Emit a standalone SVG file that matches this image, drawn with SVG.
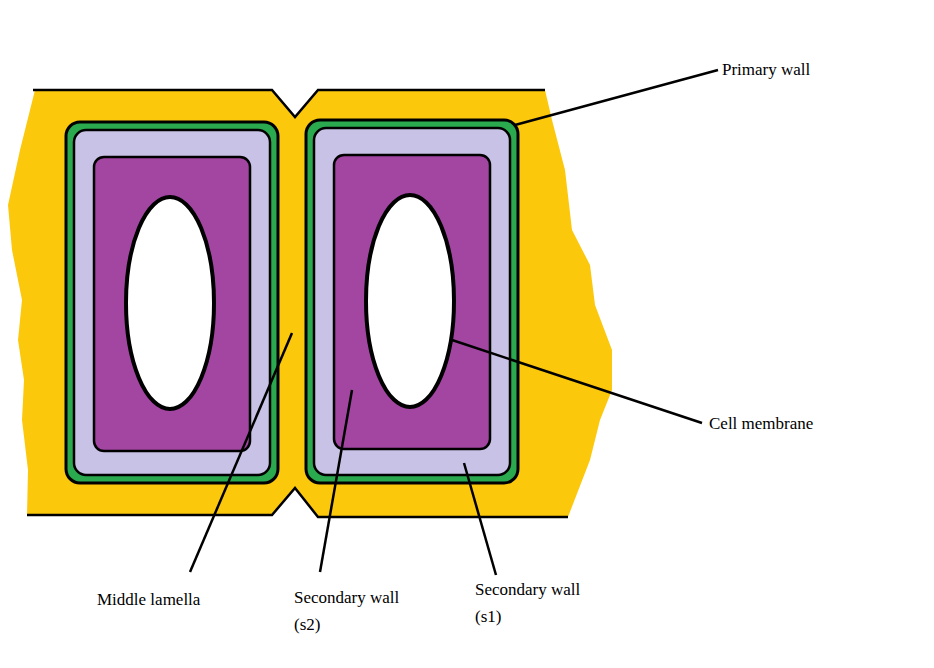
<svg xmlns="http://www.w3.org/2000/svg" width="934" height="668" viewBox="0 0 934 668">
<style>
.wall{fill:#2aa94f;stroke:#000;stroke-width:3}
.s1{fill:#c8c3e6;stroke:#000;stroke-width:2.5}
.cyto{fill:#a246a2;stroke:#000;stroke-width:2.5}
.vac{fill:#fff;stroke:#000;stroke-width:4}
.lead{stroke:#000;stroke-width:2.5;fill:none}
text{font-family:"Liberation Serif",serif;font-size:17px;fill:#000}
</style>
<rect width="934" height="668" fill="#fff"/>
<g id="lamella">
<path d="M35,90 L272,90 L295,117 L318,90 L545,90 L552,120 L565,170 L572,230 L590,265 L595,305 L612,350 L612,390 L600,420 L590,460 L568,517 L318,517 L295,488 L272,515 L27,515 L28,470 L22,420 L24,380 L18,340 L22,300 L12,250 L8,205 L20,150 L30,110 Z" fill="#fcc80c"/>
<path class="lead" d="M33,90 L272,90 L295,117 L318,90 L545,90 M27,515 L272,515 L295,488 L318,517 L568,517"/>
</g>
<g id="cell-left">
<rect class="wall" x="66" y="122" width="212" height="361" rx="14"/>
<rect class="s1" x="74" y="130" width="196" height="345" rx="12"/>
<rect class="cyto" x="94" y="157" width="156" height="294" rx="10"/>
<ellipse class="vac" cx="170" cy="303" rx="44" ry="106"/>
</g>
<g id="cell-right">
<rect class="wall" x="306" y="120" width="212" height="363" rx="14"/>
<rect class="s1" x="314" y="128" width="196" height="347" rx="12"/>
<rect class="cyto" x="334" y="155" width="156" height="294" rx="10"/>
<ellipse class="vac" cx="410" cy="301" rx="44" ry="106"/>
</g>
<g id="connectors">
<line class="lead" x1="515" y1="125" x2="718" y2="70"/>
<line class="lead" x1="452" y1="340" x2="702" y2="423"/>
<line class="lead" x1="292" y1="333" x2="190" y2="572"/>
<line class="lead" x1="352" y1="390" x2="320" y2="572"/>
<line class="lead" x1="464" y1="463" x2="496" y2="575"/>
</g>
<g id="labels">
<text x="722" y="75">Primary wall</text>
<text x="709" y="429">Cell membrane</text>
<text x="97" y="605">Middle lamella</text>
<text x="294" y="603">Secondary wall</text>
<text x="294" y="630">(s2)</text>
<text x="475" y="595">Secondary wall</text>
<text x="475" y="622">(s1)</text>
</g>
</svg>
